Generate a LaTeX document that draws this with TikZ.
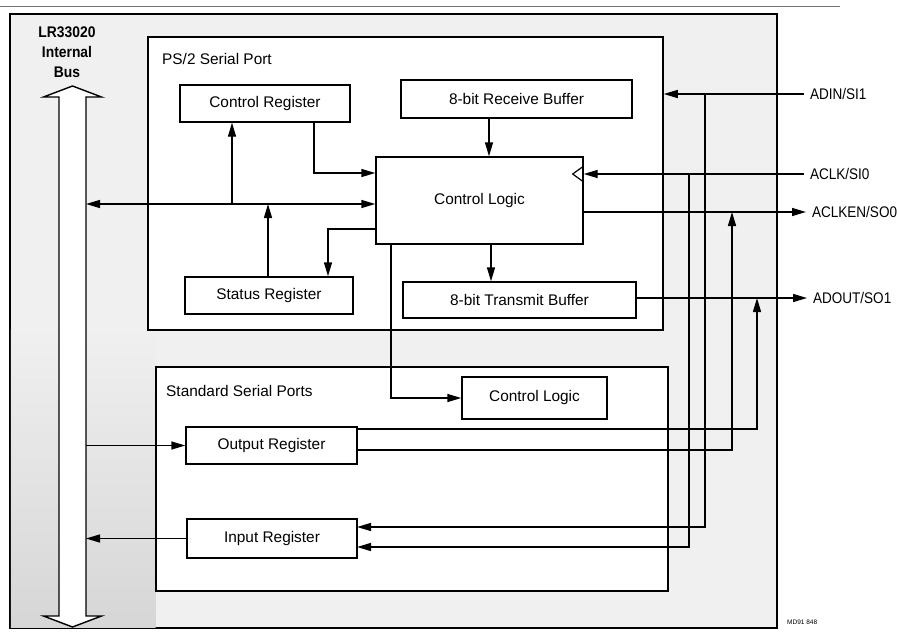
\documentclass[tikz,border=0pt]{standalone}
\usepackage{fontspec}
\setmainfont{Liberation Sans}
\newfontfamily\narrowfont[FakeStretch=0.88]{Liberation Sans}
\newfontfamily\busfont[FakeStretch=0.9]{Liberation Sans}
\usetikzlibrary{arrows.meta}
\tikzset{
  box/.style={draw, line width=1.4pt, fill=white, inner sep=0pt, font=\fontsize{15.4}{18}\selectfont},
  frame/.style={draw, line width=1.5pt, fill=white, inner sep=0pt},
  wire/.style={line width=1.4pt},
  arr/.style={wire, -{Triangle[length=14pt,width=8pt]}},
  darr/.style={wire, {Triangle[length=14pt,width=8pt]}-{Triangle[length=14pt,width=8pt]}},
  title/.style={font=\fontsize{15.4}{18}\selectfont, inner sep=0pt, anchor=base west},
  sig/.style={font=\narrowfont\fontsize{15.4}{18}\selectfont, inner sep=0pt, outer sep=6pt, anchor=west},
}
\begin{document}
\begin{tikzpicture}[x=1pt,y=-1pt]
\useasboundingbox (0,0) rectangle (897,633);
% page rule
\draw[black!55, line width=0.8pt] (0,6) -- (840,6);
% outer frame with stippled background
\node[draw, line width=1.5pt, fill=black!6, inner sep=0pt, minimum width=767pt, minimum height=614pt] (outer) at (393.5,321) {};
\shade[top color=black!6, bottom color=black!16] (10.9,330) rectangle (155.5,627.1);
% internal bus (hollow double arrow)
\draw[line width=1.4pt, fill=white] (72.5,86) -- (101.5,97) -- (86,97) -- (86,616) -- (101.5,616) -- (72.5,627) -- (43.5,616) -- (59,616) -- (59,97) -- (43.5,97) -- cycle;
\node[font=\busfont\bfseries\fontsize{15.4}{20}\selectfont, align=center, inner sep=0pt] (buslbl) at (67,52) {LR33020\\Internal\\Bus};
% port frames
\node[frame, minimum width=515pt, minimum height=293pt] (ps2) at (405.5,183.5) {};
\node[frame, minimum width=512pt, minimum height=224pt] (std) at (412,479) {};
\node[title] (ps2t) at (162,64) {PS/2 Serial Port};
\node[title] (stdt) at (166,396) {Standard Serial Ports};
% blocks
\node[box, minimum width=170pt, minimum height=37pt] (creg) at (265,103.5) {Control Register};
\node[box, minimum width=231pt, minimum height=38pt] (rbuf) at (516.5,99) {8-bit Receive Buffer};
\node[box, minimum width=207pt, minimum height=87pt] (clog) at (479.5,200.5) {Control Logic};
\node[box, minimum width=168pt, minimum height=37pt] (sreg) at (269,295.5) {Status Register};
\node[box, minimum width=233pt, minimum height=36pt] (tbuf) at (519.5,300) {8-bit Transmit Buffer};
\node[box, minimum width=145pt, minimum height=42pt] (clog2) at (534.5,398) {Control Logic};
\node[box, minimum width=171pt, minimum height=37pt] (oreg) at (271.5,445.5) {Output Register};
\node[box, minimum width=170pt, minimum height=39pt] (ireg) at (272,538.5) {Input Register};
% external signals
\node[sig] (adin) at (804,94) {ADIN/SI1};
\node[sig] (aclk) at (804,174) {ACLK/SI0};
\node[sig] (aclken) at (806,212) {ACLKEN/SO0};
\node[sig] (adout) at (807,298) {ADOUT/SO1};
\node[font=\fontsize{6.5}{8}\selectfont, anchor=west, inner sep=0pt] (tag) at (787,622) {MD91 848};
% helper coordinates
\coordinate (busR) at (86,0);
\coordinate (ybus) at (0,204);
\coordinate (xcr) at (232,0);
\coordinate (xsr) at (268,0);
\coordinate (kcr) at (314,173);
\coordinate (kcs) at (328,229);
\coordinate (xrb) at (489,0);
\coordinate (xtb) at (491,0);
\coordinate (kcc) at (391,398);
\coordinate (xin) at (705,0);
\coordinate (xclk) at (689,0);
\coordinate (xclken) at (732,0);
\coordinate (xdout) at (757,0);
\coordinate (irIn1) at (357,527);
\coordinate (irIn2) at (357,547);
\coordinate (orOut1) at (357,429);
\coordinate (orOut2) at (357,450);
\coordinate (clk) at (aclk.west -| clog.east);
% PS/2 internal connections
\draw[darr] (ybus -| busR) -- (ybus -| clog.west);
\draw[arr] (ybus -| xcr) -- (creg.south -| xcr);
\draw[arr] (sreg.north -| xsr) -- (ybus -| xsr);
\draw[arr] (creg.south -| kcr) -- (kcr) -- (kcr -| clog.west);
\draw[arr] (kcs -| clog.west) -- (kcs) -- (kcs |- sreg.north);
\draw[arr] (rbuf.south -| xrb) -- (clog.north -| xrb);
\draw[arr] (clog.south -| xtb) -- (tbuf.north -| xtb);
\draw[arr] (clog.south -| kcc) -- (kcc) -- (clog2.west);
% clock input marker
\draw[line width=1.2pt] (clk) ++(0,-8) -- ++(-11,8) -- ++(11,8);
% standard ports to bus
\draw[arr] (oreg.west -| busR) -- (oreg.west);
\draw[arr] (ireg.west) -- (ireg.west -| busR);
% external pins
\draw[arr] (adin.west) -- (adin.west -| ps2.east);
\draw[arr] (aclk.west) -- (clk);
\draw[arr] (aclken.west -| clog.east) -- (aclken.west);
\draw[arr] (adout.west -| tbuf.east) -- (adout.west);
\draw[arr] (adin.west -| xin) |- (irIn1);
\draw[arr] (aclk.west -| xclk) |- (irIn2);
\draw[arr] (orOut2) -| (aclken.west -| xclken);
\draw[arr] (orOut1) -| (adout.west -| xdout);
\end{tikzpicture}
\end{document}
